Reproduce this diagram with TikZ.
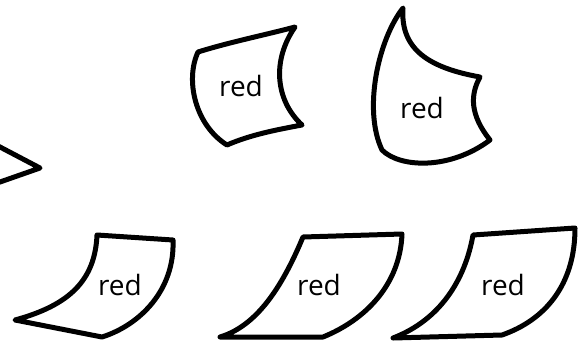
\documentclass[tikz,border=0pt]{standalone}
\usepackage{fontspec}
\setmainfont{Open Sans}
\tikzset{
  leaf/.style={draw=black, fill=white, line width=5pt, line join=round, line cap=round},
  lbl/.style={font=\fontsize{28}{32}\selectfont, inner sep=0pt}
}
\begin{document}
\begin{tikzpicture}[x=1pt,y=-1pt]
\useasboundingbox (0,0) rectangle (585,343);
\clip (0,0) rectangle (585,343);
% partial shape at left edge
\draw[leaf, fill=none] (-20,136.5) -- (40,168) -- (-20,189);
% top middle
\draw[leaf] (198,52) .. controls (230,42) and (265,35) .. (295,27)
  .. controls (272,60) and (275,100) .. (302,125)
  .. controls (275,130) and (250,135) .. (227,145)
  .. controls (195,125) and (185,80) .. cycle;
\node[lbl] (t1) at (241,86) {red};
% top right
\draw[leaf] (403,8) .. controls (378,40) and (363,110) .. (382,150)
  .. controls (400,168) and (450,170) .. (490,140)
  .. controls (470,115) and (470,95) .. (480,77)
  .. controls (430,68) and (400,50) .. cycle;
\node[lbl] (t2) at (422,108) {red};
% bottom left
\draw[leaf] (97,235) -- (173,240)
  .. controls (175,290) and (140,325) .. (102,337)
  -- (15,320)
  .. controls (70,305) and (95,280) .. cycle;
\node[lbl] (t3) at (120,285) {red};
% bottom middle
\draw[leaf] (303,237) -- (402,234)
  .. controls (400,285) and (365,320) .. (323,337)
  -- (220,337)
  .. controls (260,325) and (285,280) .. cycle;
\node[lbl] (t4) at (319,285) {red};
% bottom right
\draw[leaf] (473,235) -- (575,228)
  .. controls (575,285) and (545,320) .. (502,335)
  -- (393,338)
  .. controls (440,320) and (465,280) .. cycle;
\node[lbl] (t5) at (503,285) {red};
\end{tikzpicture}
\end{document}
